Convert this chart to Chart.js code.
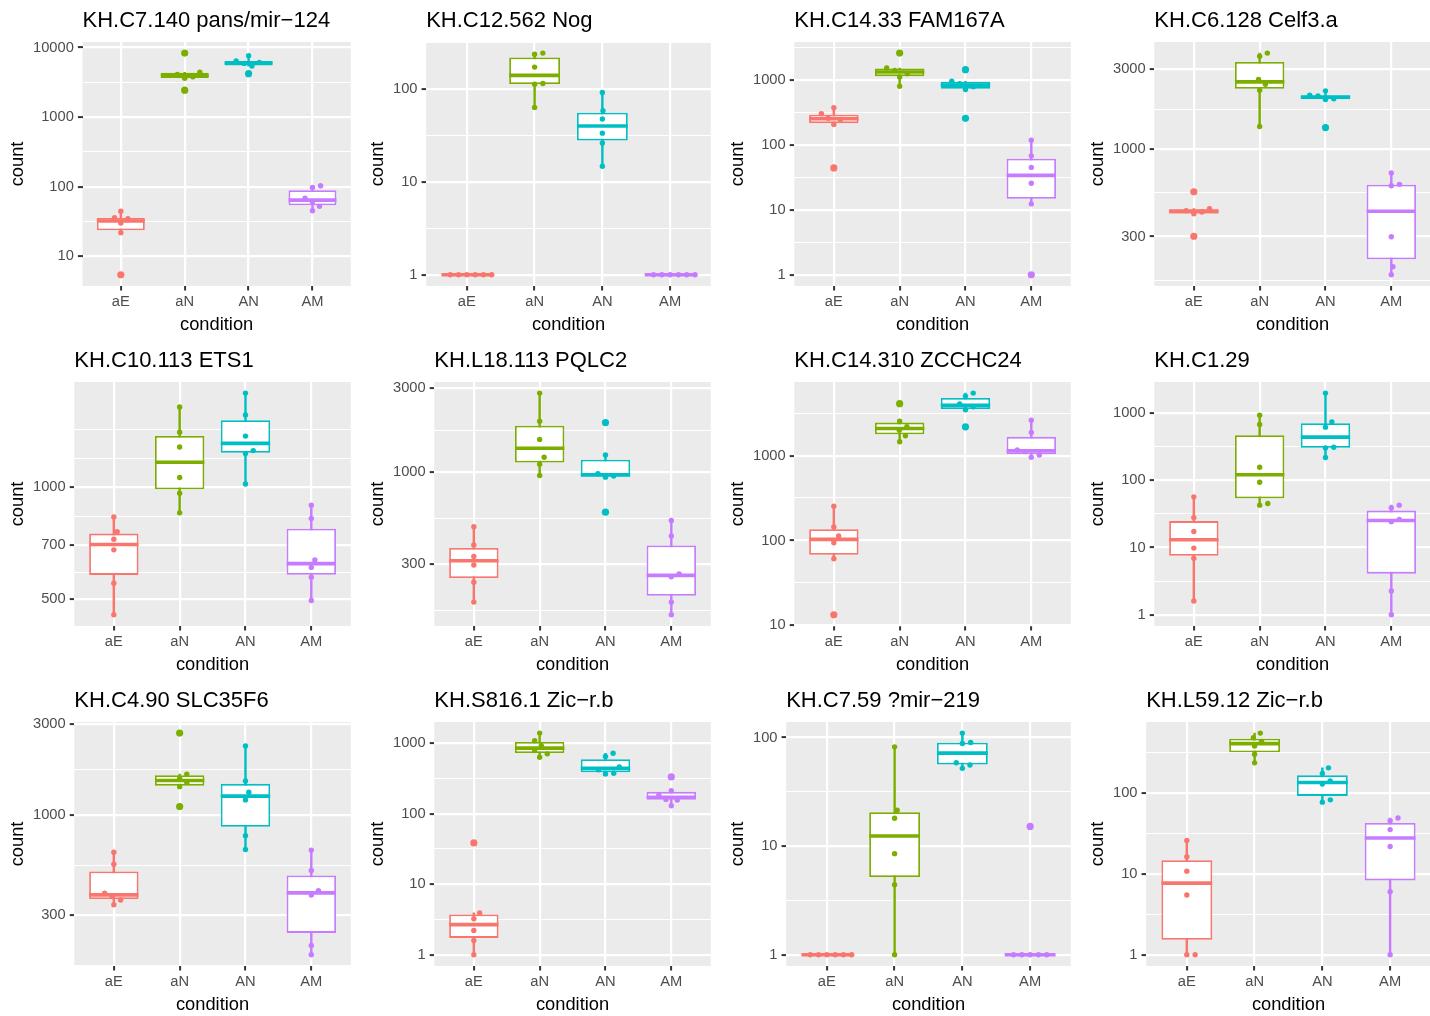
<!DOCTYPE html>
<html>
<head>
<meta charset="utf-8">
<title>Gene counts by condition</title>
<script src="https://cdn.jsdelivr.net/npm/chart.js@4.4.1/dist/chart.umd.min.js"></script>
<style>
  html, body { margin: 0; padding: 0; background: #ffffff; width: 1430px; height: 1016px; overflow: hidden; }
  .cell { position: absolute; width: 360px; height: 340px; }
</style>
</head>
<body>
<div id="grid"></div>
<script>
// ---- data -------------------------------------------------------------
const conditions = ['aE', 'aN', 'AN', 'AM'];

const titleC7_140 = 'KH.C7.140 pans/mir\u2212124';
const countsC7_140 = [
  [44.4, 35.7, 34.5, 29.9, 21.8, 5.4],
  [8300, 4400, 4100, 3800, 3600, 2430],
  [7600, 6400, 6100, 5900, 5400, 4200],
  [103, 97, 68, 60, 52, 45]
];
const ticksC7_140 = [10, 100, 1000, 10000];

const titleC12_562 = 'KH.C12.562 Nog';
const countsC12_562 = [
  [1, 1, 1, 1, 1, 1],
  [245, 238, 173, 115, 113, 63.7],
  [92, 58.7, 47.8, 33.6, 26.3, 14.8],
  [1, 1, 1, 1, 1, 1]
];
const ticksC12_562 = [1, 10, 100];

const titleC14_33 = 'KH.C14.33 FAM167A';
const countsC14_33 = [
  [370, 300, 255, 245, 205, 44],
  [2560, 1510, 1390, 1236, 1100, 792],
  [1423, 944, 870, 780, 704, 254],
  [117, 67.4, 44.8, 25.5, 12.3, 1]
];
const ticksC14_33 = [1, 10, 100, 1000];

const titleC6_128 = 'KH.C6.128 Celf3.a';
const countsC6_128 = [
  [555, 440, 428, 420, 410, 301],
  [3750, 3594, 2606, 2443, 2250, 1364],
  [2230, 2100, 2080, 2000, 1980, 1345],
  [720, 615, 603, 299, 198, 177]
];
const ticksC6_128 = [300, 1000, 3000];

const titleC10_113 = 'KH.C10.113 ETS1';
const countsC10_113 = [
  [833, 760, 725, 679, 552, 454],
  [1646, 1408, 1284, 1063, 964, 854],
  [1794, 1567, 1374, 1256, 1233, 1021],
  [895, 825, 638, 609, 573, 496]
];
const ticksC10_113 = [500, 700, 1000];

const titleL18_113 = 'KH.L18.113 PQLC2';
const countsL18_113 = [
  [490, 386, 332, 297, 237, 183],
  [2811, 1947, 1535, 1215, 1109, 958],
  [1913, 1252, 980, 952, 937, 593],
  [532, 434, 264, 255, 183, 155]
];
const ticksL18_113 = [300, 1000, 3000];

const titleC14_310 = 'KH.C14.310 ZCCHC24';
const countsC14_310 = [
  [253, 144, 113, 94, 61, 13.3],
  [4090, 2544, 2188, 1995, 1714, 1458],
  [5456, 5026, 4074, 3758, 3467, 2184],
  [2614, 1875, 1165, 1120, 1018, 956]
];
const ticksC14_310 = [10, 100, 1000];

const titleC1_29 = 'KH.C1.29';
const countsC1_29 = [
  [56.6, 27.8, 17.3, 9.8, 6.9, 1.6],
  [923, 673, 156, 93, 45.1, 42.6],
  [1968, 736, 614, 309, 302, 217],
  [42.6, 39, 26.2, 24.2, 2.26, 1]
];
const ticksC1_29 = [1, 10, 100, 1000];

const titleC4_90 = 'KH.C4.90 SLC35F6';
const countsC4_90 = [
  [640, 553, 391, 375, 360, 340],
  [2684, 1638, 1556, 1480, 1408, 1109],
  [2298, 1507, 1316, 1201, 781, 661],
  [656, 514, 402, 382, 208, 186]
];
const ticksC4_90 = [300, 1000, 3000];

const titleS816_1 = 'KH.S816.1 Zic\u2212r.b';
const countsS816_1 = [
  [38.6, 3.93, 3.24, 2.22, 1.6, 1],
  [1395, 1089, 926, 788, 708, 635],
  [723, 649, 460, 422, 376, 367],
  [333, 212, 184, 160, 157, 130]
];
const ticksS816_1 = [1, 10, 100, 1000];

const titleC7_59 = 'KH.C7.59 ?mir\u2212219';
const countsC7_59 = [
  [1, 1, 1, 1, 1, 1],
  [82.2, 21.4, 18.1, 8.54, 4.42, 1],
  [110, 90, 88.1, 58.7, 55.9, 52.1],
  [15.2, 1, 1, 1, 1, 1]
];
const ticksC7_59 = [1, 10, 100];

const titleL59_12 = 'KH.L59.12 Zic\u2212r.b';
const countsL59_12 = [
  [25.8, 16.3, 10.8, 5.48, 1, 1],
  [548, 480, 433, 380, 300, 235],
  [204, 174, 140, 129, 82, 76.9],
  [49, 45.4, 35.2, 21.8, 6.02, 1]
];
const ticksL59_12 = [1, 10, 100];

// ---- styling ----------------------------------------------------------
const conditionColors = ['#F8766D', '#7CAE00', '#00BFC4', '#C77CFF'];
const FONT = "'Liberation Sans', Arial, Helvetica, sans-serif";
const CELL_W = 360, CELL_H = 340;
const SWARM_SPACING = 8.3;   // px between neighbouring swarm points
const BOX_HALF = 0.375;      // half box width, in category units

Chart.defaults.font.family = FONT;

const panels = [
  [titleC7_140, countsC7_140, ticksC7_140],
  [titleC12_562, countsC12_562, ticksC12_562],
  [titleC14_33, countsC14_33, ticksC14_33],
  [titleC6_128, countsC6_128, ticksC6_128],
  [titleC10_113, countsC10_113, ticksC10_113],
  [titleL18_113, countsL18_113, ticksL18_113],
  [titleC14_310, countsC14_310, ticksC14_310],
  [titleC1_29, countsC1_29, ticksC1_29],
  [titleC4_90, countsC4_90, ticksC4_90],
  [titleS816_1, countsS816_1, ticksS816_1],
  [titleC7_59, countsC7_59, ticksC7_59],
  [titleL59_12, countsL59_12, ticksL59_12]
];

// ---- statistics (computed on the log10 scale) -------------------------
function quantile(sorted, p) {
  const h = (sorted.length - 1) * p;
  const lo = Math.floor(h), hi = Math.ceil(h);
  return sorted[lo] + (h - lo) * (sorted[hi] - sorted[lo]);
}

function boxStats(vals) {
  const l = vals.map(Math.log10).sort((a, b) => a - b);
  const q1 = quantile(l, 0.25), med = quantile(l, 0.5), q3 = quantile(l, 0.75);
  const reach = 1.5 * (q3 - q1);
  const inside = l.filter(v => v >= q1 - reach - 1e-9 && v <= q3 + reach + 1e-9);
  const outside = l.filter(v => v < q1 - reach - 1e-9 || v > q3 + reach + 1e-9);
  return {
    q1: 10 ** q1, med: 10 ** med, q3: 10 ** q3,
    lo: 10 ** Math.min(...inside), hi: 10 ** Math.max(...inside),
    out: outside.map(v => 10 ** v)
  };
}

// Regular minor breaks between (and one step beyond) the major breaks.
function minorBreaks(majors, lo, hi) {
  const b = majors.map(Math.log10);
  const first = b[1] - b[0], last = b[b.length - 1] - b[b.length - 2];
  if (lo < b[0]) b.unshift(b[0] - first);
  if (hi > b[b.length - 1]) b.push(b[b.length - 1] + last);
  const out = [];
  for (let i = 0; i < b.length; i++) {
    out.push(b[i]);
    if (i < b.length - 1) out.push((b[i] + b[i + 1]) / 2);
  }
  const majorLogs = majors.map(Math.log10);
  return out
    .filter(v => v >= lo && v <= hi && !majorLogs.some(m => Math.abs(m - v) < 1e-9))
    .map(v => 10 ** v);
}

// Beeswarm placement in pixel space, smallest values first.
function swarmOffsets(chart, groups) {
  const xs = chart.scales.x, ys = chart.scales.y;
  const unit = xs.getPixelForValue(2) - xs.getPixelForValue(1);
  const d2 = SWARM_SPACING * SWARM_SPACING;
  return groups.map(vals => {
    const order = vals.map((v, i) => ({ i, v, py: ys.getPixelForValue(v) }))
      .sort((a, b) => a.v - b.v || a.i - b.i);
    const placed = [];
    const off = new Array(vals.length).fill(0);
    for (const p of order) {
      const cands = [0];
      for (const q of placed) {
        const dy = p.py - q.py;
        if (Math.abs(dy) < SWARM_SPACING) {
          const dx = Math.sqrt(d2 - dy * dy);
          cands.push(q.x + dx, q.x - dx);
        }
      }
      cands.sort((a, b) => Math.abs(a) - Math.abs(b) || b - a);
      const x = cands.find(c => placed.every(q => (c - q.x) ** 2 + (p.py - q.py) ** 2 >= d2 - 1e-6)) ?? 0;
      placed.push({ x, py: p.py });
      off[p.i] = x / unit;
    }
    return off;
  });
}

const panelBackground = {
  id: 'panelBackground',
  beforeDraw(chart) {
    const { ctx, chartArea: a } = chart;
    ctx.save();
    ctx.fillStyle = '#EBEBEB';
    ctx.fillRect(a.left, a.top, a.right - a.left, a.bottom - a.top);
    ctx.restore();
  }
};

function halfBoxPx(chart) {
  const x = chart.scales.x;
  return (x.getPixelForValue(2) - x.getPixelForValue(1)) * BOX_HALF;
}

function drawPanel(index, title, groups, majors) {
  const cell = document.createElement('div');
  cell.className = 'cell';
  cell.style.left = (index % 4) * CELL_W + 'px';
  cell.style.top = Math.floor(index / 4) * CELL_H + 'px';
  const canvas = document.createElement('canvas');
  canvas.width = CELL_W; canvas.height = CELL_H;
  canvas.style.width = CELL_W + 'px'; canvas.style.height = CELL_H + 'px';
  cell.appendChild(canvas);
  document.getElementById('grid').appendChild(cell);

  const stats = groups.map(boxStats);
  const logs = groups.flat().map(Math.log10);
  const lo = Math.min(...logs), hi = Math.max(...logs);
  const pad = (hi - lo) * 0.05;
  const yMin = 10 ** (lo - pad), yMax = 10 ** (hi + pad);
  const minors = minorBreaks(majors, lo - pad, hi + pad);
  const allTicks = majors.concat(minors).sort((a, b) => a - b);
  const isMajor = v => majors.some(m => Math.abs(m - v) / m < 1e-6);

  const outliers = [], outlierColors = [];
  stats.forEach((s, g) => s.out.forEach(v => { outliers.push({ x: g + 1, y: v }); outlierColors.push(conditionColors[g]); }));
  const points = groups.flatMap((vals, g) => vals.map(v => ({ x: g + 1, y: v })));
  const pointColors = groups.flatMap((vals, g) => vals.map(() => conditionColors[g]));

  const chart = new Chart(canvas, {
    type: 'bar',
    data: {
      datasets: [
        {
          type: 'bar', label: 'whisker',
          data: stats.map((s, g) => ({ x: g + 1, y: [s.lo, s.hi] })),
          backgroundColor: conditionColors, borderWidth: 0,
          barThickness: 1.8, grouped: false, order: 5
        },
        {
          type: 'bar', label: 'box',
          data: stats.map((s, g) => ({ x: g + 1, y: [s.q1, s.q3] })),
          backgroundColor: '#FFFFFF', borderColor: conditionColors, borderWidth: 1.8,
          borderSkipped: false, grouped: false,
          categoryPercentage: 1, barPercentage: BOX_HALF * 2, order: 4
        },
        {
          type: 'scatter', label: 'median',
          data: stats.map((s, g) => ({ x: g + 1, y: s.med })),
          pointStyle: 'line', pointRadius: ctx => halfBoxPx(ctx.chart),
          pointBorderWidth: 3.6, pointBorderColor: conditionColors, order: 3
        },
        {
          type: 'scatter', label: 'outlier', data: outliers,
          pointRadius: 3.6, pointBackgroundColor: outlierColors,
          pointBorderWidth: 0, order: 2
        },
        {
          type: 'scatter', label: 'count', data: points,
          pointRadius: 2.7, pointBackgroundColor: pointColors,
          pointBorderWidth: 0, order: 1
        }
      ]
    },
    options: {
      responsive: false, animation: false, events: [], devicePixelRatio: 1,
      layout: { autoPadding: false, padding: { left: 0, right: 9.2, top: 0, bottom: 0 } },
      plugins: {
        legend: { display: false },
        tooltip: { enabled: false },
        title: {
          display: true, text: title, align: 'start', fullSize: false,
          color: '#000000', font: { size: 22, weight: 'normal' },
          padding: { top: 7.5, bottom: 8.1 }
        }
      },
      scales: {
        x: {
          type: 'linear', min: 0.4, max: 4.6, bounds: 'data', offset: false,
          afterBuildTicks: s => { s.ticks = conditions.map((c, i) => ({ value: i + 1 })); },
          ticks: {
            callback: v => conditions[Math.round(v) - 1] ?? '',
            color: '#4D4D4D', font: { size: 14.7 }, padding: 2.8,
            autoSkip: false, maxRotation: 0
          },
          grid: { offset: false, color: '#FFFFFF', lineWidth: 2.2, tickColor: '#333333', tickLength: 4.6, tickWidth: 2 },
          border: { display: false },
          title: {
            display: true, text: 'condition', color: '#000000',
            font: { size: 18.3 }, padding: { top: 0, bottom: 4.3 }
          }
        },
        y: {
          type: 'logarithmic', min: yMin, max: yMax, bounds: 'data',
          afterBuildTicks: s => { s.ticks = allTicks.map(v => ({ value: v })); },
          ticks: {
            callback: v => isMajor(v) ? String(majors.find(m => Math.abs(m - v) / m < 1e-6)) : '',
            color: '#4D4D4D', font: { size: 14.7 }, padding: 4.1, autoSkip: false
          },
          grid: {
            color: '#FFFFFF',
            lineWidth: ctx => (ctx.tick && isMajor(ctx.tick.value)) ? 2.2 : 1.1,
            tickColor: ctx => (ctx.tick && isMajor(ctx.tick.value)) ? '#333333' : 'rgba(0,0,0,0)',
            tickLength: 4.6, tickWidth: 2
          },
          border: { display: false },
          title: {
            display: true, text: 'count', color: '#000000',
            font: { size: 18.3 }, padding: { top: 6.7, bottom: 0.2 }
          }
        }
      }
    },
    plugins: [panelBackground]
  });

  // spread the individual counts as a beeswarm once the scales are known
  const offsets = swarmOffsets(chart, groups);
  chart.data.datasets[4].data = groups.flatMap((vals, g) =>
    vals.map((v, k) => ({ x: g + 1 + offsets[g][k], y: v })));
  chart.update('none');
}

panels.forEach(([title, groups, majors], i) => drawPanel(i, title, groups, majors));
</script>
</body>
</html>
